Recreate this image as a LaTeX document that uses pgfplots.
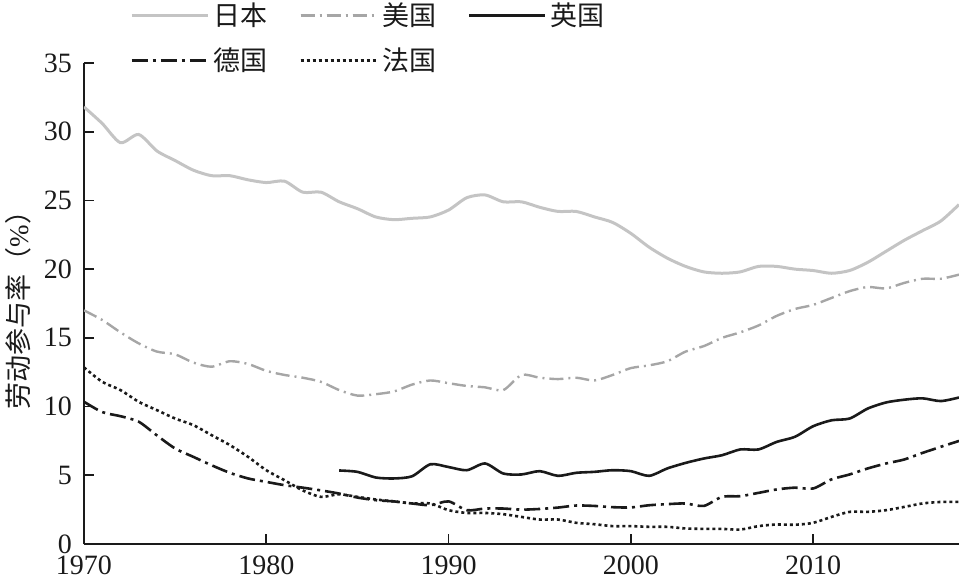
\documentclass[border=0pt]{standalone}
\usepackage{fontspec}
\setmainfont{Liberation Serif}
\newfontfamily\cjk{Noto Sans CJK SC}
\usepackage{pgfplots}
\pgfplotsset{compat=1.18}
\definecolor{jpcol}{HTML}{C4C4C4}
\definecolor{uscol}{HTML}{A6A6A6}
\definecolor{ink}{HTML}{1A1A1A}
\begin{document}
\begin{tikzpicture}
\begin{axis}[
  scale only axis, width=437.5pt, height=240.5pt,
  at={(0,0)}, anchor=south west,
  xmin=1970, xmax=2018, ymin=0, ymax=35,
  xtick={1970,1980,...,2010}, ytick={0,5,...,35},
  axis lines=left, axis line style={-, line width=1pt, ink},
  tick align=inside, major tick length=5pt,
  tick style={line width=0.9pt, ink},
  /pgf/number format/1000 sep={},
  /pgf/number format/assume math mode=true,
  tick label style={font=\fontsize{14}{16}\selectfont, text=ink},
  xticklabel style={yshift=-4pt, inner ysep=1.5pt},
  yticklabel style={xshift=-2.5pt, inner ysep=0.5pt},
  ylabel={{\cjk 劳动参与率（}\%{\cjk ）}},
  ylabel style={at={(axis description cs:-0.0754,0.5)}, anchor=center, font=\fontsize{13.5}{15}\selectfont, text=ink},
  legend columns=3,
  legend style={at={(axis description cs:0.0526,1.052)}, anchor=west,
    draw=none, fill=none, inner sep=0pt,
    font=\fontsize{13.5}{15}\selectfont\cjk, text=ink,
    row sep=5.5pt,
    /tikz/every even column/.append style={column sep=14pt}},
  legend image code/.code={\draw[#1] (0pt,0pt) -- (33pt,0pt);\path (0pt,0pt) -- (38pt,0pt);},
  legend cell align=left,
  every axis plot/.append style={smooth, tension=0.45},
]
\addplot[jpcol, line width=1.5pt] coordinates {
(1970,31.8)(1971,30.6)(1972,29.2)(1973,29.8)(1974,28.6)(1975,27.9)(1976,27.2)(1977,26.8)(1978,26.8)(1979,26.5)
(1980,26.3)(1981,26.4)(1982,25.6)(1983,25.6)(1984,24.9)(1985,24.4)(1986,23.8)(1987,23.6)(1988,23.7)(1989,23.8)
(1990,24.3)(1991,25.2)(1992,25.4)(1993,24.9)(1994,24.9)(1995,24.5)(1996,24.2)(1997,24.2)(1998,23.8)(1999,23.4)
(2000,22.6)(2001,21.6)(2002,20.8)(2003,20.2)(2004,19.8)(2005,19.7)(2006,19.8)(2007,20.2)(2008,20.2)(2009,20.0)
(2010,19.9)(2011,19.7)(2012,19.9)(2013,20.5)(2014,21.3)(2015,22.1)(2016,22.8)(2017,23.5)(2018,24.7)};
\addlegendentry{日本}
\addplot[uscol, line width=1.2pt, dash pattern=on 7pt off 2.5pt on 1pt off 2.5pt] coordinates {
(1970,17.0)(1971,16.3)(1972,15.4)(1973,14.6)(1974,14.0)(1975,13.8)(1976,13.2)(1977,12.9)(1978,13.3)(1979,13.1)
(1980,12.6)(1981,12.3)(1982,12.1)(1983,11.8)(1984,11.2)(1985,10.8)(1986,10.9)(1987,11.1)(1988,11.6)(1989,11.9)
(1990,11.7)(1991,11.5)(1992,11.4)(1993,11.2)(1994,12.3)(1995,12.1)(1996,12.0)(1997,12.1)(1998,11.9)(1999,12.3)
(2000,12.8)(2001,13.0)(2002,13.3)(2003,14.0)(2004,14.4)(2005,15.0)(2006,15.4)(2007,15.9)(2008,16.6)(2009,17.1)
(2010,17.4)(2011,17.9)(2012,18.4)(2013,18.7)(2014,18.6)(2015,19.0)(2016,19.3)(2017,19.3)(2018,19.6)};
\addlegendentry{美国}
\addplot[ink, line width=1.3pt] coordinates {
(1984,5.35)(1985,5.25)(1986,4.84)(1987,4.77)(1988,4.93)(1989,5.8)
(1990,5.6)(1991,5.37)(1992,5.86)(1993,5.13)(1994,5.06)(1995,5.3)(1996,4.96)(1997,5.18)(1998,5.25)(1999,5.37)
(2000,5.3)(2001,4.96)(2002,5.5)(2003,5.9)(2004,6.22)(2005,6.46)(2006,6.88)(2007,6.88)(2008,7.43)(2009,7.8)
(2010,8.57)(2011,9.0)(2012,9.13)(2013,9.86)(2014,10.3)(2015,10.5)(2016,10.6)(2017,10.4)(2018,10.66)};
\addlegendentry{英国}
\addplot[ink, line width=1.3pt, dash pattern=on 8pt off 2.5pt on 1.5pt off 2.5pt] coordinates {
(1970,10.35)(1971,9.6)(1972,9.3)(1973,8.9)(1974,7.9)(1975,6.95)(1976,6.34)(1977,5.73)(1978,5.18)(1979,4.77)
(1980,4.52)(1981,4.28)(1982,4.1)(1983,3.9)(1984,3.67)(1985,3.38)(1986,3.19)(1987,3.1)(1988,2.95)(1989,2.82)
(1990,3.1)(1991,2.46)(1992,2.58)(1993,2.58)(1994,2.5)(1995,2.55)(1996,2.65)(1997,2.8)(1998,2.77)(1999,2.68)
(2000,2.66)(2001,2.82)(2002,2.9)(2003,2.95)(2004,2.77)(2005,3.43)(2006,3.48)(2007,3.72)(2008,3.97)(2009,4.1)
(2010,4.04)(2011,4.7)(2012,5.06)(2013,5.5)(2014,5.86)(2015,6.15)(2016,6.63)(2017,7.07)(2018,7.5)};
\addlegendentry{德国}
\addplot[ink, line width=1.3pt, dash pattern=on 1.5pt off 1.5pt] coordinates {
(1970,12.85)(1971,11.8)(1972,11.2)(1973,10.35)(1974,9.74)(1975,9.13)(1976,8.65)(1977,7.92)(1978,7.2)(1979,6.34)
(1980,5.37)(1981,4.64)(1982,3.9)(1983,3.43)(1984,3.62)(1985,3.43)(1986,3.24)(1987,3.1)(1988,2.95)(1989,2.95)
(1990,2.46)(1991,2.26)(1992,2.26)(1993,2.17)(1994,1.97)(1995,1.78)(1996,1.78)(1997,1.54)(1998,1.44)(1999,1.3)
(2000,1.3)(2001,1.25)(2002,1.25)(2003,1.13)(2004,1.1)(2005,1.1)(2006,1.05)(2007,1.3)(2008,1.42)(2009,1.4)
(2010,1.54)(2011,1.97)(2012,2.34)(2013,2.34)(2014,2.46)(2015,2.7)(2016,2.95)(2017,3.06)(2018,3.06)};
\addlegendentry{法国}
\end{axis}
\pgfresetboundingbox
\path (-42pt,-20.5pt) rectangle (438pt,272pt);
\end{tikzpicture}
\end{document}
